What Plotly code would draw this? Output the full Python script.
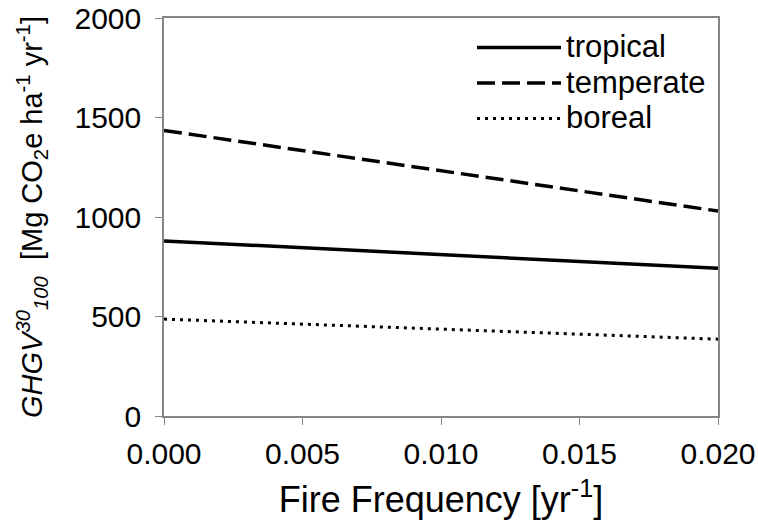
import plotly.graph_objects as go

# ---- data ----
fire_freq = [0.000, 0.005, 0.010, 0.015, 0.020]
tropical = [880, 846, 812, 777, 742]
temperate = [1435, 1334, 1233, 1132, 1030]
boreal = [487, 462, 437, 412, 386]
series_names = ["tropical", "temperate", "boreal"]

x_tickvals = [0.000, 0.005, 0.010, 0.015, 0.020]
y_tickvals = [0, 500, 1000, 1500, 2000]

FONT = "Liberation Sans, Arial, sans-serif"
AXIS_COL = "#858585"


def legend_label(name):
    # larger glyphs than the legend's row pitch
    return '<span style="font-size:31px">' + name + '</span>'


fig = go.Figure()
fig.add_trace(go.Scatter(x=fire_freq, y=tropical, mode="lines", name=legend_label(series_names[0]),
                         line=dict(color="black", width=3.5, dash="solid")))
fig.add_trace(go.Scatter(x=fire_freq, y=temperate, mode="lines", name=legend_label(series_names[1]),
                         line=dict(color="black", width=3.5, dash="18px,7px")))
fig.add_trace(go.Scatter(x=fire_freq, y=boreal, mode="lines", name=legend_label(series_names[2]),
                         line=dict(color="black", width=3, dash="3px,5px")))

xr = [0, 0.02]
yr = [0, 2000]

fig.update_layout(
    width=758, height=527,
    margin=dict(l=164, r=40, t=18, b=111, autoexpand=False),
    paper_bgcolor="white", plot_bgcolor="white",
    font=dict(family=FONT, size=30, color="black"),
    showlegend=True,
    legend=dict(x=0.556, y=0.983, xanchor="left", yanchor="top",
                bgcolor="rgba(0,0,0,0)", font=dict(size=25),
                itemwidth=84, tracegroupgap=0),
    xaxis=dict(range=xr, tickvals=x_tickvals, tickformat=".3f",
               ticks="outside", ticklen=7, tickcolor=AXIS_COL, tickwidth=1,
               showline=True, linecolor=AXIS_COL, linewidth=1.5, mirror=True,
               showgrid=False, zeroline=False, automargin=False,
               ticklabelstandoff=3, ticklabeloverflow="allow",
               title=dict(text="Fire Frequency [yr<sup>-1</sup>]", standoff=18),
               tickfont=dict(size=30)),
    yaxis=dict(range=yr, tickvals=y_tickvals,
               ticks="outside", ticklen=7, tickcolor=AXIS_COL, tickwidth=1,
               showline=True, linecolor=AXIS_COL, linewidth=1.5, mirror=True,
               showgrid=False, zeroline=False, automargin=False,
               ticklabelstandoff=8, ticklabeloverflow="allow",
               title=dict(text="<i>GHGV</i><sup><i>30</i></sup><sub><i>100</i></sub>  [Mg CO<sub>2</sub>e ha<sup>-1</sup> yr<sup>-1</sup>]",
                          standoff=23, font=dict(size=29)),
               tickfont=dict(size=30)),
    # inner halves of the crossing ticks (bottom / left)
    xaxis2=dict(overlaying="x", anchor="y", side="bottom", range=xr, tickvals=x_tickvals,
                ticks="inside", ticklen=7, tickcolor=AXIS_COL, showticklabels=False,
                showline=False, showgrid=False, zeroline=False),
    yaxis2=dict(overlaying="y", anchor="x", side="left", range=yr, tickvals=y_tickvals,
                ticks="inside", ticklen=7, tickcolor=AXIS_COL, showticklabels=False,
                showline=False, showgrid=False, zeroline=False),
    # frame + short inward ticks on top / right
    xaxis3=dict(overlaying="x", anchor="y", side="top", range=xr, tickvals=x_tickvals,
                ticks="inside", ticklen=5, tickcolor=AXIS_COL, showticklabels=False,
                showline=True, linecolor=AXIS_COL, linewidth=1.5,
                showgrid=False, zeroline=False),
    yaxis3=dict(overlaying="y", anchor="x", side="right", range=yr, tickvals=y_tickvals,
                ticks="inside", ticklen=5, tickcolor=AXIS_COL, showticklabels=False,
                showline=True, linecolor=AXIS_COL, linewidth=1.5,
                showgrid=False, zeroline=False),
)

fig.write_html("out.html",
               config={"displayModeBar": False},
               post_script="document.body.style.margin='0';document.body.style.padding='0';")
